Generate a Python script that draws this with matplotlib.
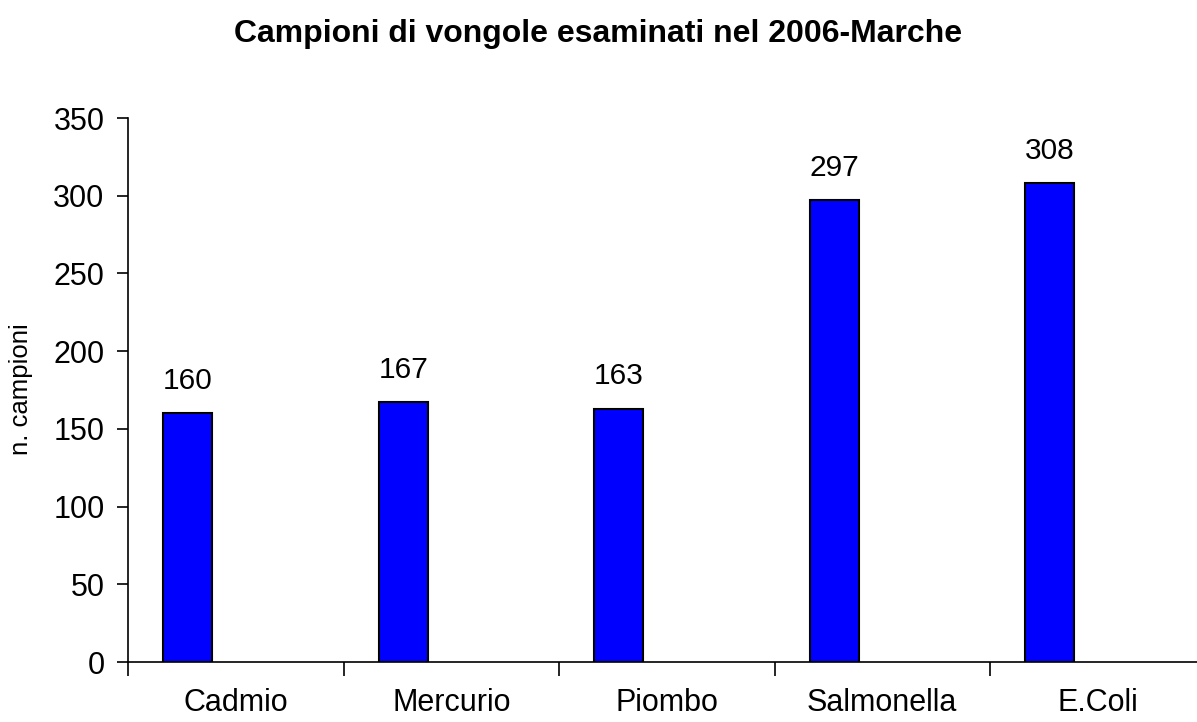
import matplotlib
matplotlib.use("Agg")
import matplotlib.pyplot as plt
import numpy as np

# data
categories = ["Cadmio", "Mercurio", "Piombo", "Salmonella", "E.Coli"]
valori = [160, 167, 163, 297, 308]
yticks = [0, 50, 100, 150, 200, 250, 300, 350]

plt.rcParams['font.family'] = ['Liberation Sans', 'DejaVu Sans']

fig = plt.figure(figsize=(11.97, 7.22), dpi=100)
# axes runs a little past the right edge, like the original
ax_w = 5 * 215.5
ax = fig.add_axes([128 / 1197, 1 - 662 / 722, ax_w / 1197, (662 - 118) / 722])

x = np.arange(len(categories))
off, bw = 0.163, 0.228
bars = ax.bar(x + off, valori, width=bw, align='edge',
              color='#0000ff', edgecolor='black', linewidth=1.5)

for xi, v in zip(x, valori):
    ax.text(xi + off + bw / 2, v + 12, str(v), ha='center', va='bottom', fontsize=21.5)

ax.set_xlim(0, len(categories))
ax.set_ylim(0, 350)
ax.set_yticks(yticks)
ax.tick_params(axis='y', labelsize=22, length=8, width=1.2, pad=9)

# ticks on category boundaries, labels in the middle
ax.set_xticks(np.arange(len(categories) + 1))
ax.set_xticklabels([])
ax.set_xticks(x + 0.5, minor=True)
ax.set_xticklabels(categories, minor=True, fontsize=22)
ax.tick_params(axis='x', which='major', length=10, width=1.2, direction='out')
ax.tick_params(axis='x', which='minor', length=0, pad=19)

ax.spines['top'].set_visible(False)
ax.spines['right'].set_visible(False)
ax.spines['left'].set_linewidth(1.2)
ax.spines['bottom'].set_linewidth(1.2)

ax.set_ylabel("n. campioni", fontsize=18.5)
ax.yaxis.set_label_coords(-(128 - 33) / ax_w, (662 - 389) / 544)
fig.text(0.5, 1 - 34 / 722, "Campioni di vongole esaminati nel 2006-Marche",
         ha='center', va='center', fontsize=23, fontweight='bold')

plt.savefig("out.png", dpi=100)
